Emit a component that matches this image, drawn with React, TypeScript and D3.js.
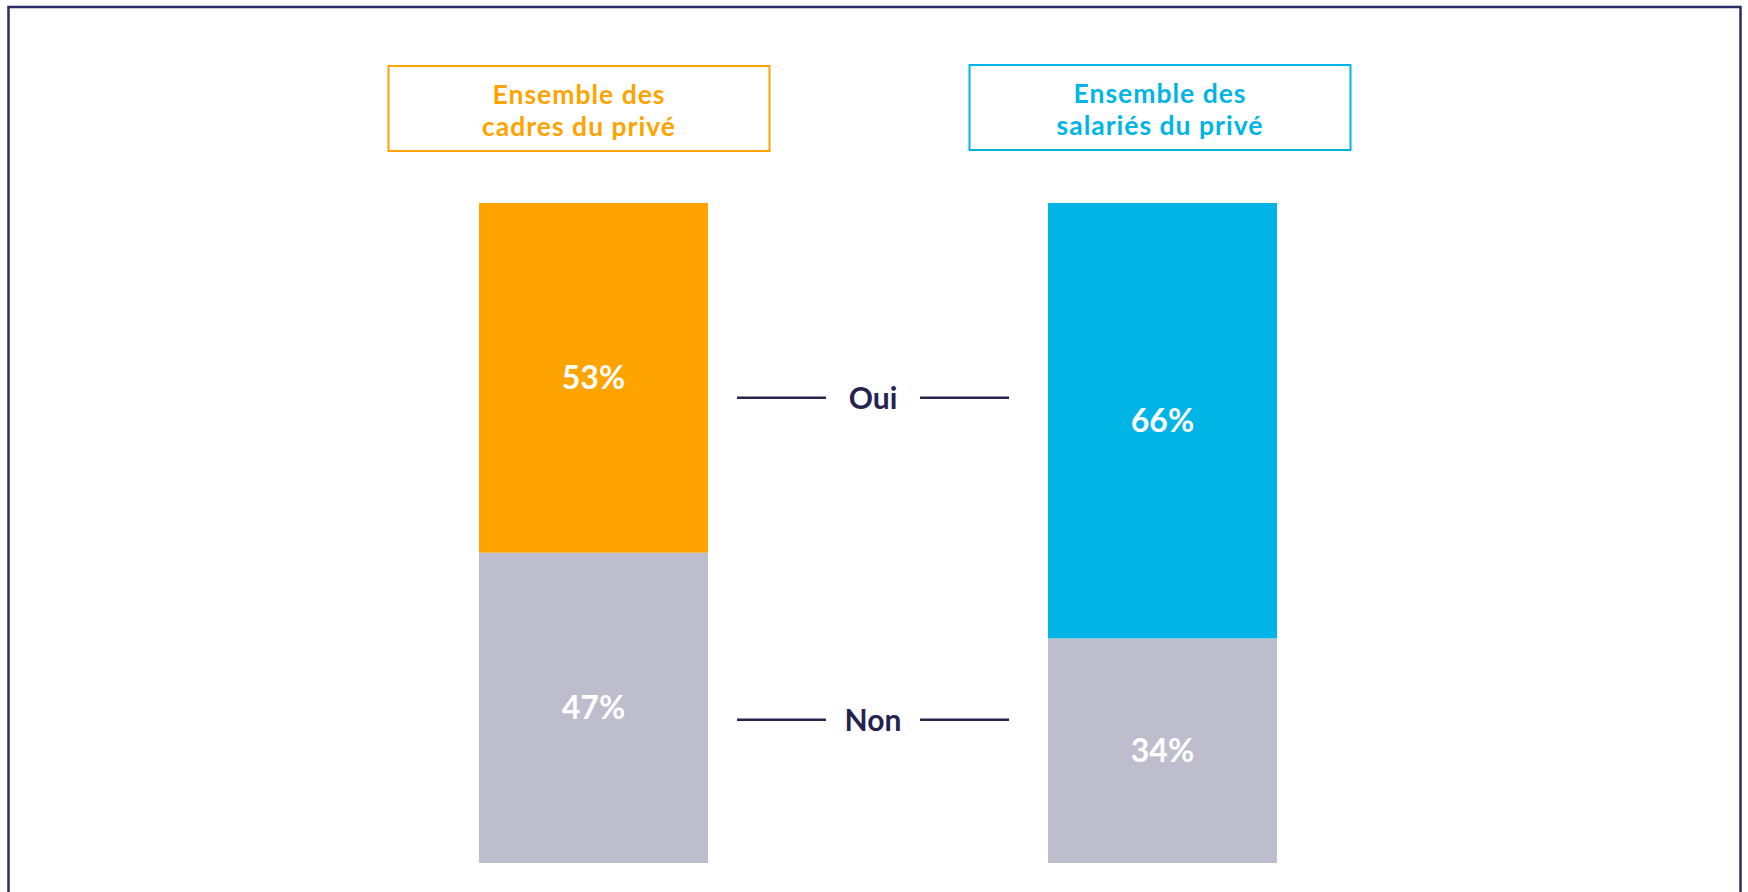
import React from "react";
import * as d3 from "d3";

const categories = ["cadres", "salaries"];
const headerLines = [
  ["Ensemble des", "cadres du privé"],
  ["Ensemble des", "salariés du privé"],
];
const responses = ["Oui", "Non"];
const ouiValues = [53, 66];
const nonValues = [47, 34];

const W = 1748;
const H = 892;
const ORANGE = "#FFA300";
const BLUE = "#00B5E5";
const GRAY = "#BEBDCE";
const NAVY = "#24244F";
const FRAME = "#2A2D66";
const FONT = "Lato, 'Open Sans', sans-serif";

export default function App() {
  const x = d3
    .scaleBand<string>()
    .domain(categories)
    .range([479, 1277])
    .paddingInner(340 / 569)
    .paddingOuter(0);
  const y = d3.scaleLinear().domain([0, 100]).range([203, 863]);

  const rows = categories.map((c, i) => ({ cat: c, Oui: ouiValues[i], Non: nonValues[i] }));
  const stack = d3.stack<any>().keys(responses);
  const series = stack(rows);
  const seriesColors: Record<string, string[]> = {
    Oui: [ORANGE, BLUE],
    Non: [GRAY, GRAY],
  };
  const headerColors = [ORANGE, BLUE];
  const headerOffsets = [-14.5, -2.5];
  const headerTops = [66, 65];
  const boxW = 381;
  const boxH = 85;

  const connectorLevels: Record<string, number> = { Oui: 29.5, Non: 78.3 };
  const midX = 873;

  return (
    <svg
      width={W}
      height={H}
      style={{ position: "absolute", left: 0, top: 0, background: "#fff" }}
    >
      <rect x={8.5} y={7} width={1732} height={H + 20} fill="#fff" stroke={FRAME} strokeWidth={2.5} />
      {categories.map((c, i) => {
        const cx = (x(c) as number) + x.bandwidth() / 2 + headerOffsets[i];
        const top = headerTops[i];
        return (
          <g key={"h" + c}>
            <rect
              x={cx - boxW / 2}
              y={top}
              width={boxW}
              height={boxH}
              fill="none"
              stroke={headerColors[i]}
              strokeWidth={2}
            />
            {headerLines[i].map((t, j) => (
              <text
                key={j}
                x={cx}
                y={top + 37.5 + j * 32}
                textAnchor="middle"
                fontFamily={FONT}
                fontWeight={700}
                fontSize={26.5}
                letterSpacing={1}
                fill={headerColors[i]}
              >
                {t}
              </text>
            ))}
          </g>
        );
      })}
      {series.map((s) =>
        s.map((d, i) => {
          const c = categories[i];
          const y0 = y(d[0]);
          const y1 = y(d[1]);
          const bx = x(c) as number;
          return (
            <g key={s.key + c}>
              <rect x={bx} y={y0} width={x.bandwidth()} height={y1 - y0} fill={seriesColors[s.key][i]} />
              <text
                x={bx + x.bandwidth() / 2}
                y={(y0 + y1) / 2 + 11.5}
                textAnchor="middle"
                fontFamily={FONT}
                fontWeight={700}
                fontSize={32}
                fill="#fff"
              >
                {`${d[1] - d[0]}%`}
              </text>
            </g>
          );
        })
      )}
      {responses.map((r) => {
        const ly = y(connectorLevels[r]);
        return (
          <g key={"c" + r}>
            <line x1={midX - 136} x2={midX - 47} y1={ly} y2={ly} stroke={NAVY} strokeWidth={2.5} />
            <line x1={midX + 47} x2={midX + 136} y1={ly} y2={ly} stroke={NAVY} strokeWidth={2.5} />
            <text
              x={midX}
              y={ly + 11}
              textAnchor="middle"
              fontFamily={FONT}
              fontWeight={700}
              fontSize={30}
              fill={NAVY}
            >
              {r}
            </text>
          </g>
        );
      })}
    </svg>
  );
}
